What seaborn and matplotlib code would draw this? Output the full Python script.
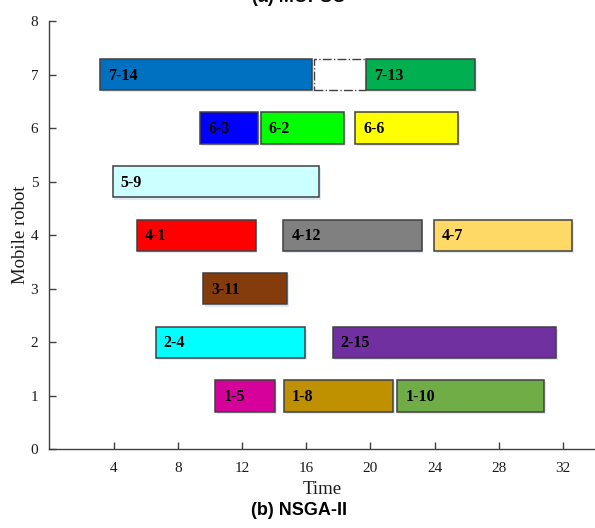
import matplotlib
matplotlib.use("Agg")
import matplotlib.pyplot as plt
import matplotlib.patheffects as pe
import seaborn as sns
import pandas as pd

# ---- data ----
robots = [7, 7, 6, 6, 6, 5, 4, 4, 4, 3, 2, 2, 1, 1, 1]
tasks = ["7-14", "7-13", "6-3", "6-2", "6-6", "5-9", "4-1", "4-12", "4-7",
         "3-11", "2-4", "2-15", "1-5", "1-8", "1-10"]
starts = [3.15, 19.72, 9.39, 13.17, 19.05, 3.95, 5.44, 14.58, 23.98,
          9.59, 6.63, 17.66, 10.34, 14.63, 21.69]
ends = [16.39, 26.53, 12.99, 18.39, 25.49, 16.81, 12.86, 23.19, 32.56,
        14.81, 15.95, 31.56, 14.06, 21.44, 30.82]
colors = ["#0070C0", "#00B050", "#0000FF", "#00FF00", "#FFFF00", "#CCFFFF",
          "#FF0000", "#808080", "#FFD966", "#843C0C", "#00FFFF", "#7030A0",
          "#D6009A", "#BF9000", "#70AD47"]

# idle (waiting) interval of robot 7
idle_robot = [7]
idle_start = [16.52]
idle_end = [19.72]

x_ticks = [4, 8, 12, 16, 20, 24, 28, 32]
y_ticks = [0, 1, 2, 3, 4, 5, 6, 7, 8]

df = pd.DataFrame({"robot": robots, "task": tasks, "start": starts,
                   "end": ends, "color": colors})
df["dur"] = df["end"] - df["start"]

sns.set_theme(style="ticks")
plt.rcParams["font.family"] = ["Liberation Serif", "DejaVu Serif"]

fig = plt.figure(figsize=(5.95, 5.28), dpi=100)
ax = fig.add_axes([0.083, 0.1487, 0.917, 0.8116])

edge = "#404040"
shadow = [pe.SimplePatchShadow(offset=(1.2, -1.6), shadow_rgbFace="#c6d6ec", alpha=0.55),
          pe.Normal()]
bar_h = 0.585

bars = ax.barh(df["robot"], df["dur"], left=df["start"], height=bar_h,
               color=df["color"], edgecolor=edge, linewidth=1.1, zorder=3)
for b in bars:
    b.set_path_effects(shadow)

idle = ax.barh(idle_robot, [e - s for s, e in zip(idle_start, idle_end)],
               left=idle_start, height=bar_h, color="white", edgecolor=edge,
               linewidth=1.0, linestyle="-.", zorder=2)

for _, r in df.iterrows():
    ax.text(r["start"] + 0.5, r["robot"] - 0.02, r["task"], ha="left", va="center",
            fontsize=11.5, fontweight="bold", color="black", zorder=4,
            family=["Liberation Serif", "DejaVu Serif"])

ax.set_xlim(0, 34)
ax.set_ylim(0, 8)
ax.set_xticks(x_ticks)
ax.set_yticks(y_ticks)
ax.set_xticklabels([str(v) for v in x_ticks])
ax.set_yticklabels([str(v) for v in y_ticks])
ax.tick_params(axis="both", direction="in", length=5, width=1.0,
               colors=edge, labelsize=11, labelcolor="#1a1a1a", pad=6)
ax.tick_params(axis="y", pad=8)
ax.tick_params(axis="x", pad=9)
sns.despine(ax=ax, top=True, right=True)
for s in ["left", "bottom"]:
    ax.spines[s].set_color(edge)
    ax.spines[s].set_linewidth(1.0)
ax.set_xlabel("Time", fontsize=13.5, color="#1a1a1a", labelpad=4)
ax.set_ylabel("Mobile robot", fontsize=13.5, color="#1a1a1a", labelpad=1)
ax.grid(False)

fig.text(0.503, 1 - 2.5 / 528, "(a) MOPSO", ha="center", va="baseline",
         fontsize=13, fontweight="bold", color="black",
         family=["Liberation Sans", "DejaVu Sans"])
fig.text(0.503, 1 - 515 / 528, "(b) NSGA-II", ha="center", va="baseline",
         fontsize=13, fontweight="bold", color="black",
         family=["Liberation Sans", "DejaVu Sans"])

fig.savefig("out.png", dpi=100)
